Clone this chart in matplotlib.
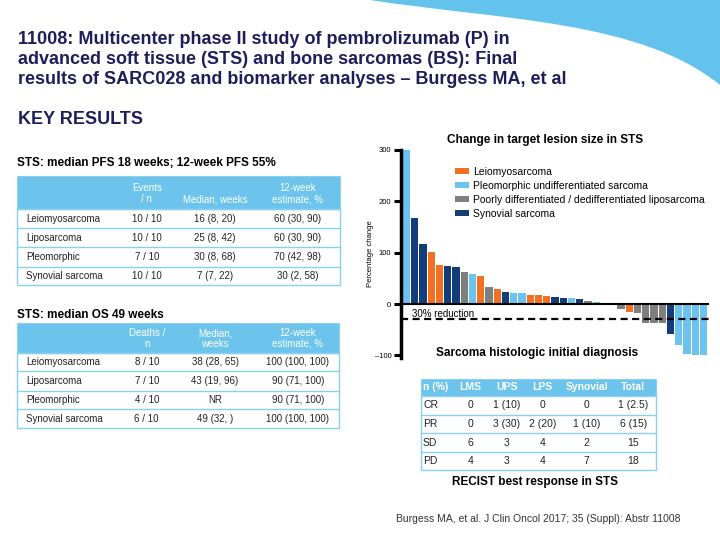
import matplotlib
matplotlib.use("Agg")
import matplotlib.pyplot as plt
from matplotlib.patches import Rectangle, Patch, PathPatch
from matplotlib.path import Path

plt.rcParams['font.family'] = ['Liberation Sans', 'DejaVu Sans']

# ---- data ----
title_lines = ["11008: Multicenter phase II study of pembrolizumab (P) in",
               "advanced soft tissue (STS) and bone sarcomas (BS): Final",
               "results of SARC028 and biomarker analyses \u2013 Burgess MA, et al"]

# waterfall: change in target lesion size (%) and histology per patient
change = [300, 168, 116, 102, 77, 75, 73, 63, 58, 54, 34, 30, 24, 21, 21, 17, 17, 15,
          13, 11, 11, 9, 6, 5, 2, 0, -10, -15, -17, -37, -37, -37, -59, -79, -97, -100, -100]
histology = ['UPS', 'SS', 'SS', 'LMS', 'LMS', 'SS', 'SS', 'LPS', 'UPS', 'LMS', 'LPS', 'LMS',
             'SS', 'UPS', 'UPS', 'LMS', 'LMS', 'LMS', 'SS', 'SS', 'UPS', 'SS', 'LPS', 'UPS',
             'LMS', 'SS', 'LPS', 'LMS', 'LPS', 'LPS', 'LPS', 'LPS', 'SS', 'UPS', 'UPS', 'UPS', 'UPS']
hist_names = {'LMS': 'Leiomyosarcoma',
              'UPS': 'Pleomorphic undifferentiated sarcoma',
              'LPS': 'Poorly differentiated / dedifferentiated liposarcoma',
              'SS': 'Synovial sarcoma'}
hist_colors = {'LMS': '#F36F21', 'UPS': '#6CC4EE', 'LPS': '#7F7F7F', 'SS': '#123D7A'}
reduction_cut = -30

# PFS table
pfs_header = ["Events\n/ n", "Median, weeks", "12-week\nestimate, %"]
subtypes = ["Leiomyosarcoma", "Liposarcoma", "Pleomorphic", "Synovial sarcoma"]
pfs_events = ["10 / 10", "10 / 10", "7 / 10", "10 / 10"]
pfs_median = ["16 (8, 20)", "25 (8, 42)", "30 (8, 68)", "7 (7, 22)"]
pfs_est = ["60 (30, 90)", "60 (30, 90)", "70 (42, 98)", "30 (2, 58)"]

# OS table
os_header = ["Deaths /\nn", "Median,\nweeks", "12-week\nestimate, %"]
os_deaths = ["8 / 10", "7 / 10", "4 / 10", "6 / 10"]
os_median = ["38 (28, 65)", "43 (19, 96)", "NR", "49 (32, )"]
os_est = ["100 (100, 100)", "90 (71, 100)", "90 (71, 100)", "100 (100, 100)"]

# RECIST best response table
resp_header = ["n (%)", "LMS", "UPS", "LPS", "Synovial", "Total"]
resp_rows = ["CR", "PR", "SD", "PD"]
resp_lms = ["0", "0", "6", "4"]
resp_ups = ["1 (10)", "3 (30)", "3", "3"]
resp_lps = ["0", "2 (20)", "4", "4"]
resp_syn = ["0", "1 (10)", "2", "7"]
resp_total = ["1 (2.5)", "6 (15)", "15", "18"]

navy_txt = '#1E1E5A'
tbl_blue = '#6CC4EC'
line_blue = '#8ACFEE'

fig = plt.figure(figsize=(7.2, 5.4), dpi=100)

# background layer in pixel coordinates
bg = fig.add_axes([0, 0, 1, 1])
bg.set_xlim(0, 720)
bg.set_ylim(540, 0)
bg.axis('off')

# top-right swoosh
verts = [(370, 0), (500, 20), (640, 20), (720, 85), (720, 0), (370, 0)]
codes = [Path.MOVETO, Path.CURVE4, Path.CURVE4, Path.CURVE4, Path.LINETO, Path.CLOSEPOLY]
bg.add_patch(PathPatch(Path(verts, codes), facecolor='#63C3EC', edgecolor='none'))

for i, line in enumerate(title_lines):
    bg.text(18, 39 + 20 * i, line, fontsize=13, fontweight='bold', color=navy_txt,
            va='center', ha='left')
bg.text(18, 119, "KEY RESULTS", fontsize=13, fontweight='bold', color=navy_txt,
        va='center', ha='left')


def draw_table(x0, x1, top, header_bottom, row_lines, header, col_x, rows, fs=7, hdr_va_y=None):
    bg.add_patch(Rectangle((x0, top), x1 - x0, header_bottom - top, facecolor=tbl_blue,
                           edgecolor=line_blue, lw=0.8))
    bg.add_patch(Rectangle((x0, header_bottom), x1 - x0, row_lines[-1] - header_bottom,
                           facecolor='white', edgecolor=line_blue, lw=1.0))
    for y in row_lines[:-1]:
        bg.plot([x0, x1], [y, y], color=line_blue, lw=1.0)
    for txt, cx in zip(header, col_x):
        if isinstance(cx, tuple):
            continue
        bg.text(cx, hdr_va_y, txt, fontsize=fs, color='white', ha='center', va='bottom',
                linespacing=1.1)
    for r, row in enumerate(rows):
        yc = (row_lines[r] + row_lines[r + 1]) / 2
        for c, val in enumerate(row):
            cx = col_x[c]
            if isinstance(cx, tuple):
                bg.text(cx[0], yc, val, fontsize=fs, ha=cx[1], va='center', color='#222222')
            else:
                bg.text(cx, yc, val, fontsize=fs, ha='center', va='center', color='#222222')


# PFS table
bg.text(17, 163, "STS: median PFS 18 weeks; 12-week PFS 55%", fontsize=8.5,
        fontweight='bold', va='center', ha='left')
pfs_rows = [[subtypes[i], pfs_events[i], pfs_median[i], pfs_est[i]] for i in range(4)]
draw_table(17, 340, 176, 209, [209, 228.3, 247.3, 266.7, 285],
           [""] + pfs_header, [(26, 'left'), 146.7, 215, 298], pfs_rows, hdr_va_y=204)

# OS table
bg.text(17, 315, "STS: median OS 49 weeks", fontsize=8.5, fontweight='bold',
        va='center', ha='left')
os_rows = [[subtypes[i], os_deaths[i], os_median[i], os_est[i]] for i in range(4)]
draw_table(17, 339, 322.7, 352.7, [352.7, 371.3, 390.7, 409.3, 428.3],
           [""] + os_header, [(26, 'left'), 146.7, 215, 298], os_rows, hdr_va_y=349)

# response table
resp_data = [[resp_rows[i], resp_lms[i], resp_ups[i], resp_lps[i], resp_syn[i], resp_total[i]]
             for i in range(4)]
bg.text(537, 353, "Sarcoma histologic initial diagnosis", fontsize=8.5, fontweight='bold',
        ha='center', va='center')
bg.add_patch(Rectangle((421, 379.3), 234.7, 16.4, facecolor=tbl_blue, edgecolor=line_blue, lw=0.8))
bg.add_patch(Rectangle((421, 395.7), 234.7, 74.3, facecolor='white', edgecolor=line_blue, lw=1.0))
resp_lines = [395.7, 415, 433.3, 451.7, 470]
for y in resp_lines[1:-1]:
    bg.plot([421, 655.7], [y, y], color=line_blue, lw=1.0)
resp_x = [423, 470.7, 506.7, 542.7, 586.7, 633.3]
for c, h in enumerate(resp_header):
    bg.text(resp_x[c], 387.5, h, fontsize=7.5, fontweight='bold', color='white',
            ha='left' if c == 0 else 'center', va='center')
for r, row in enumerate(resp_data):
    yc = (resp_lines[r] + resp_lines[r + 1]) / 2
    for c, val in enumerate(row):
        bg.text(resp_x[c], yc, val, fontsize=7.5, color='#222222',
                ha='left' if c == 0 else 'center', va='center')
bg.text(535, 482.5, "RECIST best response in STS", fontsize=8.5, fontweight='bold',
        ha='center', va='center')
bg.text(538, 518.5, "Burgess MA, et al. J Clin Oncol 2017; 35 (Suppl): Abstr 11008",
        fontsize=7.5, color='#333333', ha='center', va='center')

# ---- waterfall chart ----
ax = fig.add_axes([401 / 720, 1 - 358 / 540, 309 / 720, 208 / 540])
xs = list(range(len(change)))
ax.bar(xs, change, width=0.88, color=[hist_colors[h] for h in histology], zorder=2)
ax.set_xlim(-0.67, 36.8)
ax.set_ylim(-105, 300)
ax.axhline(0, xmax=0.995, color='black', lw=1.5, zorder=3)
ax.axhline(reduction_cut, color='black', lw=1.6, ls=(0, (3.2, 2)), zorder=4)
ax.text(0.035, -19, "30% reduction", fontsize=7, ha='left', va='center',
        transform=ax.get_yaxis_transform())
for s in ['top', 'right', 'bottom']:
    ax.spines[s].set_visible(False)
ax.spines['left'].set_linewidth(2.5)
ax.set_xticks([])
ax.set_yticks([-100, 0, 100, 200, 300])
ax.set_yticklabels(['\u2013100', '0', '100', '200', '300'])
ax.tick_params(axis='y', length=5, width=2.2, labelsize=5.5, pad=2)
ax.set_ylabel("Percentage change", fontsize=5.5, labelpad=0.5)
ax.set_facecolor('none')
ax.set_title("Change in target lesion size in STS", fontsize=8.5, fontweight='bold',
             x=0.465, pad=5)

handles = [Patch(facecolor=hist_colors[k], label=hist_names[k]) for k in ['LMS', 'UPS', 'LPS', 'SS']]
ax.legend(handles=handles, loc='upper left', bbox_to_anchor=(0.16, 0.94), frameon=False,
          fontsize=7.5, handlelength=1.35, handleheight=0.5, labelspacing=0.4,
          handletextpad=0.4, borderaxespad=0)

fig.savefig("out.png", dpi=100)
